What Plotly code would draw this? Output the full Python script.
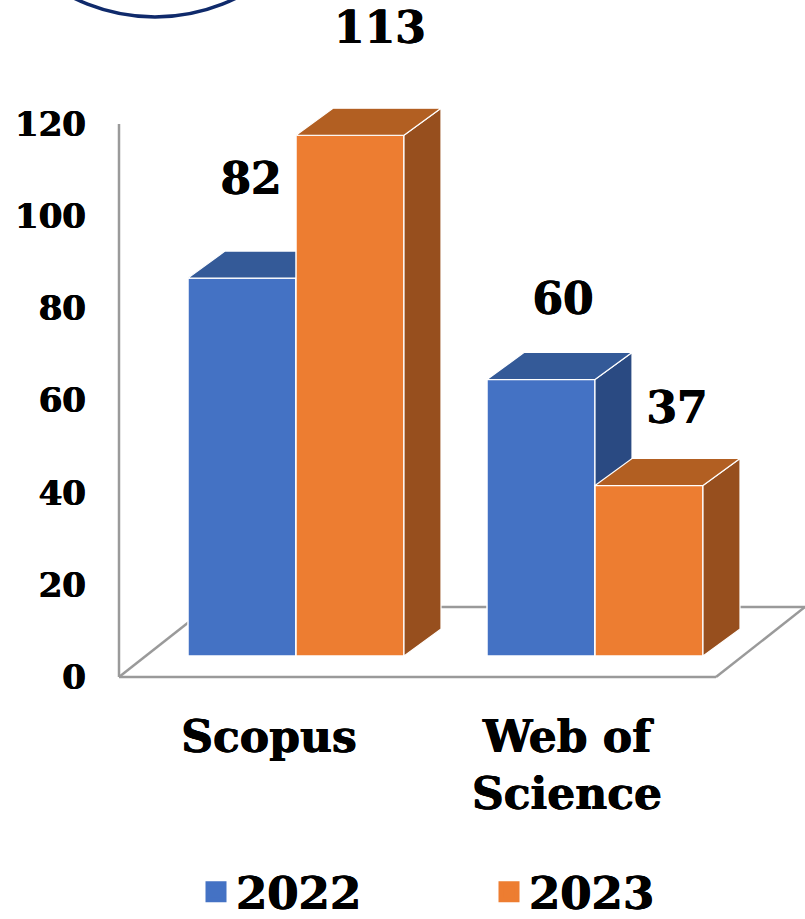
import plotly.graph_objects as go

# ---- data ----
categories = ["Scopus", "Web of<br>Science"]
series_names = ["2022", "2023"]
values_2022 = [82, 60]
values_2023 = [113, 37]
y_ticks = [0, 20, 40, 60, 80, 100, 120]

# ---- styles ----
W, H = 805, 919
FONT = "DejaVu Serif"
HEAVY = "0.5px 0 0 black, -0.5px 0 0 black"
BLUE, BLUE_TOP, BLUE_SIDE = "#4472C4", "#345A98", "#2A4A82"
ORANGE, ORANGE_TOP, ORANGE_SIDE = "#ED7D31", "#B25F22", "#974F1E"
GREY = "#9A9A9A"

# page geometry of the pseudo-3D frame (pixels)
AX_LEFT, AX_BOTTOM, AX_TOP = 119, 677, 124
CAT_STEP = 299          # px between categories
CAT0 = 296              # px of the first category's centre
PX_PER_UNIT = (AX_BOTTOM - AX_TOP) / 120
BAR_W = 108 / CAT_STEP
DEPTH_X = 37 / CAT_STEP
DEPTH_Y = 27 / PX_PER_UNIT
BASE = 21 / PX_PER_UNIT  # bars stand on the floor, above the front edge


def x_data(px):
    return (px - CAT0) / CAT_STEP


X_RANGE = [x_data(AX_LEFT), x_data(W)]
X_LABEL = [x_data(269), x_data(567)]


def px(v):
    return v / W


def py(v):
    return 1 - v / H


def faces(x_left, value, top_color, side_color, name):
    """top and side faces of one bar, derived from its value"""
    top = value + BASE
    xl, xr = x_left, x_left + BAR_W
    common = dict(mode="lines", fill="toself", showlegend=False, hoverinfo="skip",
                  line=dict(color="white", width=1.2))
    return [
        go.Scatter(x=[xr, xr + DEPTH_X, xr + DEPTH_X, xr, xr],
                   y=[top, top + DEPTH_Y, BASE + DEPTH_Y, BASE, top],
                   fillcolor=side_color, name=name, **common),
        go.Scatter(x=[xl, xl + DEPTH_X, xr + DEPTH_X, xr, xl],
                   y=[top, top + DEPTH_Y, top + DEPTH_Y, top, top],
                   fillcolor=top_color, name=name, **common),
    ]


fig = go.Figure()
groups = [
    (series_names[0], values_2022, BLUE, BLUE_TOP, BLUE_SIDE, -BAR_W, "x", "y"),
    (series_names[1], values_2023, ORANGE, ORANGE_TOP, ORANGE_SIDE, 0.0, "x2", "y2"),
]
for name, vals, col, top_c, side_c, off, xa, ya in groups:
    xs = [i + off for i in range(len(vals))]
    fig.add_trace(go.Bar(
        x=xs, y=vals, base=[BASE] * len(vals), width=BAR_W, offset=0, name=name,
        marker=dict(color=col, line=dict(color="white", width=1.5)),
        showlegend=False, xaxis=xa, yaxis=ya))
    for x_left, v in zip(xs, vals):
        for tr in faces(x_left, v, top_c, side_c, name):
            tr.update(xaxis=xa, yaxis=ya)
            fig.add_trace(tr)

# legend entries with a large square swatch
for name, col in ((series_names[0], BLUE), (series_names[1], ORANGE)):
    fig.add_trace(go.Scatter(x=[None], y=[None], name=name, mode="markers",
                             marker=dict(color=col, symbol="square", size=16,
                                         line=dict(color=col, width=5))))

# data labels (hand-placed offsets from each bar's top-left corner, px)
label_dx = [[63, 84], [76, 82]]
label_dy = [[95, 103], [77, 73]]
lx, ly, lt = [], [], []
for s, (vals, off) in enumerate(((values_2022, -BAR_W), (values_2023, 0.0))):
    for i, v in enumerate(vals):
        lx.append(i + off + label_dx[i][s] / CAT_STEP)
        ly.append(v + BASE + label_dy[i][s] / PX_PER_UNIT)
        lt.append(str(v))
fig.add_trace(go.Scatter(x=lx, y=ly, text=lt, mode="text", showlegend=False, hoverinfo="skip",
                         textposition="middle center",
                         textfont=dict(family=FONT, size=44, color="black", weight="bold", shadow=HEAVY),
                         xaxis="x2", yaxis="y2"))

# frame of the pseudo-3D floor and wall, behind the bars
FLOOR_DX, FLOOR_DY = 89, 70
FRONT_R = 716
frame = [
    (AX_LEFT, AX_BOTTOM, FRONT_R, AX_BOTTOM),
    (FRONT_R, AX_BOTTOM, FRONT_R + FLOOR_DX, AX_BOTTOM - FLOOR_DY),
    (AX_LEFT, AX_BOTTOM, AX_LEFT + FLOOR_DX, AX_BOTTOM - FLOOR_DY),
    (AX_LEFT + FLOOR_DX, AX_BOTTOM - FLOOR_DY, FRONT_R + FLOOR_DX, AX_BOTTOM - FLOOR_DY),
    (AX_LEFT, AX_TOP, AX_LEFT, AX_BOTTOM),
]
shapes = [dict(type="line", xref="paper", yref="paper", layer="below",
               x0=px(a), y0=py(b), x1=px(c), y1=py(d), line=dict(color=GREY, width=2.5))
          for a, b, c, d in frame]
# arc of the logo cropped at the top of the picture
shapes.append(dict(type="circle", xref="paper", yref="paper", layer="below",
                   x0=px(155 - 183), x1=px(155 + 183), y0=py(17), y1=py(17 - 366),
                   line=dict(color="#0F2A6B", width=3.5)))

Y_RANGE = [0, AX_BOTTOM / PX_PER_UNIT]

fig.update_layout(
    width=W, height=H, margin=dict(l=0, r=0, t=0, b=0, autoexpand=False),
    paper_bgcolor="white", plot_bgcolor="rgba(0,0,0,0)",
    barmode="overlay", shapes=shapes,
    font=dict(family=FONT, color="black"),
    xaxis=dict(domain=[px(AX_LEFT), 1], range=X_RANGE, showgrid=False, zeroline=False,
               showline=False, ticks="", tickmode="array", tickvals=X_LABEL, ticktext=categories,
               ticklabelstandoff=30,
               tickfont=dict(family=FONT, size=44, color="black", weight="bold", shadow=HEAVY),
               fixedrange=True),
    yaxis=dict(domain=[py(AX_BOTTOM), 1], range=Y_RANGE, showgrid=False, zeroline=False,
               showline=False, ticks="", tickmode="array", tickvals=y_ticks,
               ticklabelstandoff=32,
               tickfont=dict(family=FONT, size=34, color="black", weight="bold", shadow=HEAVY),
               fixedrange=True),
    xaxis2=dict(overlaying="x", matches="x", visible=False, anchor="y2"),
    yaxis2=dict(overlaying="y", matches="y", visible=False, anchor="x2"),
    legend=dict(orientation="h", xref="paper", yref="paper", x=px(196), xanchor="left",
                y=py(856), yanchor="top", entrywidth=248, entrywidthmode="pixels",
                font=dict(family=FONT, size=45, color="black", weight="bold", shadow=HEAVY),
                itemclick=False, itemdoubleclick=False, bgcolor="rgba(0,0,0,0)"),
    showlegend=True,
)

fig.write_html("out.html", post_script="document.body.style.margin='0';",
               config={"displayModeBar": False})
